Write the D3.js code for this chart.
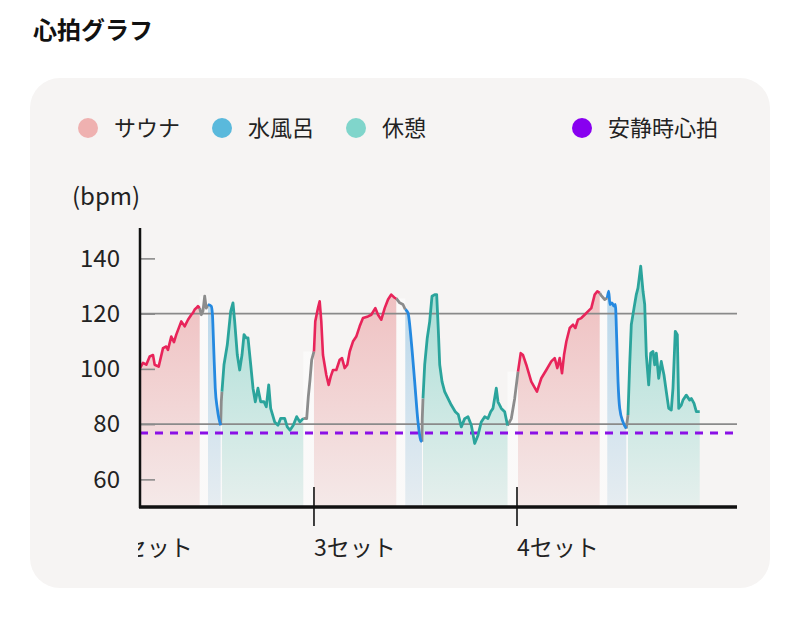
<!DOCTYPE html>
<html><head><meta charset="utf-8">
<script src="https://cdn.jsdelivr.net/npm/d3@7"></script>
<style>
html,body{margin:0;padding:0;background:#fff;}
svg{display:block;font-family:"Noto Sans CJK JP","Noto Sans",sans-serif;}
</style></head>
<body>
<svg id="c" width="800" height="628"></svg>
<script>
// ---- data (time in minutes, bpm) ----
const title = "心拍グラフ";
const legendLabels = ["サウナ", "水風呂", "休憩", "安静時心拍"];
const setTicks = [30, 60, 90];
const setLabels = ["2セット", "3セット", "4セット"];
const yTicks = [60, 80, 100, 120, 140];
const gridValues = [80, 120];
const restingHR = 76.8;
const timeRange = [34.29, 122.51];
const bpmRange = [50, 151];

const saunaSegments = [
  [[34.29,100.3],[34.73,102.2],[35.22,101.5],[35.72,104.5],[36.21,105],[36.46,101.5],[37.05,100.8],[37.69,107.5],[38.17,108.1],[38.42,106.9],[38.91,111.7],[39.31,109.7],[39.65,112.4],[40.39,117.2],[40.89,115.4],[41.38,117.8],[41.87,119.6],[42.12,120.3],[42.37,121.5],[42.61,122],[42.86,122.7],[43.11,122]],
  [[60.00,106.3],[60.19,117.2],[60.59,122],[60.84,124.5],[61.08,117.2],[61.33,105],[61.82,97.8],[62.17,94.2],[62.47,97.2],[62.81,99.6],[63.30,99.6],[63.80,103.3],[64.14,103.9],[64.54,100.3],[64.92,101.5],[65.28,106.3],[65.76,109.9],[66.25,111.7],[66.75,115.4],[67.24,118.4],[67.98,119],[68.47,119.6],[69.06,122],[69.46,119.6],[69.95,117.8],[70.45,122],[70.94,125.1],[71.42,126.9],[71.93,125.7],[72.16,125.5]],
  [[90.15,99],[90.55,105.7],[90.89,105],[91.37,101.5],[92.11,95.4],[92.95,91.8],[93.59,96.6],[94.33,99.6],[95.07,102.7],[95.57,103.9],[95.96,100.3],[96.31,103.9],[96.65,98.4],[96.95,105],[97.29,109.9],[97.79,114.8],[98.28,116],[98.62,114.8],[99.01,117.8],[99.50,118.4],[100.00,119.6],[100.49,120.8],[100.98,122],[101.48,126.9],[101.87,128.1],[102.22,127.5]]
];
const coldSegments = [
  [[44.34,123.3],[44.82,122.7],[45.0,119.5],[45.12,112],[45.22,105],[45.41,93],[45.71,85.7],[45.95,82],[46.21,79.6]],
  [[73.49,121.5],[73.89,120.3],[74.38,109.9],[74.88,95.4],[75.37,80.8],[75.77,74.2],[75.96,73.6]],
  [[103.34,125.7],[103.55,128.1],[103.74,123.3],[104.04,123.9],[104.33,122.7],[104.53,123.3],[104.73,111.2],[104.93,95.4],[105.18,85.7],[105.66,80.8],[106.15,78.4]]
];
const restSegments = [
  [[46.40,91.8],[46.70,101.5],[47.19,108.7],[47.69,120.8],[48.03,123.9],[48.28,117.2],[48.67,105],[49.02,99.6],[49.36,105],[49.66,112.4],[50.00,111.2],[50.25,111.2],[50.65,101.5],[50.99,93],[51.33,88.1],[51.72,93],[52.12,88.1],[52.61,88.1],[52.95,86.3],[53.31,94.2],[53.60,85.7],[54.19,80.8],[54.68,79.6],[55.08,82.1],[55.67,82.1],[56.05,79],[56.45,77.8],[56.94,79.6],[57.44,82.7],[57.93,80.8],[58.42,82.1]],
  [[76.11,89.3],[76.36,101.5],[76.74,111.2],[77.10,117.2],[77.44,126.3],[77.84,126.9],[78.13,126.9],[78.37,114.2],[78.58,101.5],[78.92,95.4],[79.31,91.8],[79.80,89.3],[80.29,86.9],[80.88,84.5],[81.32,83.5],[81.77,79],[82.27,82],[82.76,82.7],[83.25,79.6],[83.75,73],[84.24,76],[84.72,80.8],[85.23,82.7],[85.71,82],[86.11,84.5],[86.45,85.7],[86.94,93],[87.19,88.1],[87.68,85.7],[88.18,84.5],[88.60,79.5]],
  [[106.40,83.3],[106.65,101.5],[106.89,116],[107.29,122],[107.63,126.9],[107.88,129.3],[108.28,137.2],[108.62,128.1],[108.87,123.3],[109.11,105],[109.46,94.2],[109.76,105.7],[110.10,106.3],[110.35,101.5],[110.59,105.7],[110.94,96.6],[111.32,102.7],[111.72,97.8],[112.06,91.8],[112.42,85.7],[112.80,85.1],[113.05,93],[113.39,113.6],[113.69,112.4],[113.90,85.7],[114.28,86.9],[114.53,88.7],[115.02,90.5],[115.52,88.7],[115.76,89.3],[116.16,87.5],[116.50,84.5],[117.00,84.5]]
];
const transitionSegments = [
  [[43.11,122],[43.35,119.6],[43.60,121],[43.85,126.3],[44.08,122],[44.34,123.3]],
  [[46.21,79.6],[46.30,88.1],[46.40,91.8]],
  [[58.42,82.1],[58.92,82.0],[59.16,89.9],[59.41,96],[59.66,103.3],[60.00,106.3]],
  [[72.16,125.5],[72.66,123.9],[73.15,123.3],[73.49,121.5]],
  [[75.96,73.6],[76.0,82],[76.11,89.3]],
  [[88.60,79.5],[89.16,82],[89.66,89.3],[90.15,99]],
  [[102.22,127.5],[102.46,126.5],[102.96,125.1],[103.34,125.7]],
  [[106.15,78.4],[106.40,83.3]]
];

// ---- drawing ----
const svg = d3.select("#c");
const plot = {left:140, right:737, top:228, bottom:507};

svg.append("text").attr("x",33).attr("y",39).text(title)
  .attr("font-size",24).attr("font-weight",700).attr("fill","#111");

svg.append("rect").attr("x",30).attr("y",78).attr("width",740).attr("height",510)
  .attr("rx",30).attr("fill","#f6f4f3");

// legend
const legendColors = ["#efb1b0","#5ab9dc","#80d5cb","#8800f0"];
const legendX = [88,222,356,582];
legendLabels.forEach((l,i)=>{
  svg.append("circle").attr("cx",legendX[i]).attr("cy",128).attr("r",10).attr("fill",legendColors[i]);
  svg.append("text").attr("x",legendX[i]+26).attr("y",136).text(l)
    .attr("font-size",22).attr("fill","#222");
});

svg.append("text").attr("x",72).attr("y",205).text("(bpm)").attr("font-size",24).attr("fill","#222");

const x = d3.scaleLinear().domain(timeRange).range([plot.left, plot.right]);
const y = d3.scaleLinear().domain(bpmRange).range([plot.bottom, plot.top]);

const defs = svg.append("defs");
defs.append("clipPath").attr("id","plotclip").append("rect")
  .attr("x",plot.left).attr("y",plot.top-20).attr("width",plot.right-plot.left).attr("height",plot.bottom-plot.top+20);
defs.append("clipPath").attr("id","labelclip").append("rect")
  .attr("x",138).attr("y",plot.bottom-30).attr("width",plot.right-138+20).attr("height",110);

function grad(id, color, o0, o1){
  const g = defs.append("linearGradient").attr("id",id).attr("gradientUnits","userSpaceOnUse")
    .attr("x1",0).attr("x2",0).attr("y1",y(135)).attr("y2",y(50));
  g.append("stop").attr("offset",0).attr("stop-color",color).attr("stop-opacity",o0);
  g.append("stop").attr("offset",1).attr("stop-color",color).attr("stop-opacity",o1);
}
grad("gSauna","#ea9a9c",0.62,0.12);
grad("gCold","#72b6e0",0.5,0.12);
grad("gRest","#6fcdc0",0.6,0.12);
grad("gTrans","#ffffff",0.5,0.5);

const g = svg.append("g").attr("clip-path","url(#plotclip)");
const area = d3.area().x(d=>x(d[0])).y0(y(bpmRange[0])).y1(d=>y(d[1]));
const line = d3.line().x(d=>x(d[0])).y(d=>y(d[1]));
const smooth = d3.line().x(d=>x(d[0])).y(d=>y(d[1])).curve(d3.curveMonotoneX);

// transition gaps (lighter)
transitionSegments.forEach(s=>{
  const top = d3.max(s,d=>d[1]);
  g.append("rect").attr("x",x(s[0][0])).attr("width",x(s[s.length-1][0])-x(s[0][0]))
    .attr("y",y(top)).attr("height",y(bpmRange[0])-y(top))
    .attr("fill","url(#gTrans)");
});
saunaSegments.forEach(s=>g.append("path").attr("d",area(s)).attr("fill","url(#gSauna)"));
coldSegments.forEach(s=>g.append("path").attr("d",area.curve(d3.curveMonotoneX)(s)).attr("fill","url(#gCold)"));
area.curve(d3.curveLinear);
restSegments.forEach(s=>g.append("path").attr("d",area(s)).attr("fill","url(#gRest)"));

// gridlines
gridValues.forEach(v=>{
  g.append("line").attr("x1",plot.left).attr("x2",plot.right).attr("y1",y(v)).attr("y2",y(v))
    .attr("stroke","#8a8a8a").attr("stroke-width",1.6);
});

// resting HR
g.append("line").attr("x1",plot.left).attr("x2",plot.right).attr("y1",y(restingHR)).attr("y2",y(restingHR))
  .attr("stroke","#8a10e6").attr("stroke-width",3).attr("stroke-dasharray","8,7");

transitionSegments.forEach(s=>g.append("path").attr("d",line(s)).attr("fill","none")
  .attr("stroke","#8c8c8c").attr("stroke-width",2.8).attr("stroke-linejoin","round"));
saunaSegments.forEach(s=>g.append("path").attr("d",line(s)).attr("fill","none")
  .attr("stroke","#e8245a").attr("stroke-width",2.6).attr("stroke-linejoin","round"));
coldSegments.forEach(s=>g.append("path").attr("d",smooth(s)).attr("fill","none")
  .attr("stroke","#2589e0").attr("stroke-width",2.8).attr("stroke-linejoin","round"));
restSegments.forEach(s=>g.append("path").attr("d",line(s)).attr("fill","none")
  .attr("stroke","#2ba49c").attr("stroke-width",2.8).attr("stroke-linejoin","round"));

// y axis
const yAxis = svg.append("g").attr("transform",`translate(${plot.left},0)`)
  .call(d3.axisLeft(y).tickValues(yTicks).tickSize(-15).tickPadding(20));
yAxis.select(".domain").remove();
yAxis.selectAll(".tick line").attr("stroke","#8a8a8a").attr("stroke-width",1.6);
yAxis.selectAll(".tick text").attr("font-size",24).attr("fill","#222")
  .attr("font-family","'Noto Sans CJK JP','Noto Sans',sans-serif");
svg.append("line").attr("x1",plot.left).attr("x2",plot.left).attr("y1",plot.top).attr("y2",plot.bottom+1)
  .attr("stroke","#111").attr("stroke-width",2.5);

// x axis
const xg = svg.append("g").attr("clip-path","url(#labelclip)");
xg.append("line").attr("x1",plot.left-1).attr("x2",plot.right).attr("y1",plot.bottom).attr("y2",plot.bottom)
  .attr("stroke","#111").attr("stroke-width",3.5);
setTicks.forEach((t,i)=>{
  const px = x(t);
  if (px >= plot.left) {
    xg.append("line").attr("x1",px).attr("x2",px).attr("y1",plot.bottom-20).attr("y2",plot.bottom+19)
      .attr("stroke","#111").attr("stroke-width",1.6);
  }
  xg.append("text").attr("x",px).attr("y",plot.bottom+49).text(setLabels[i])
    .attr("font-size",23).attr("fill","#222");
});
</script>
</body></html>
